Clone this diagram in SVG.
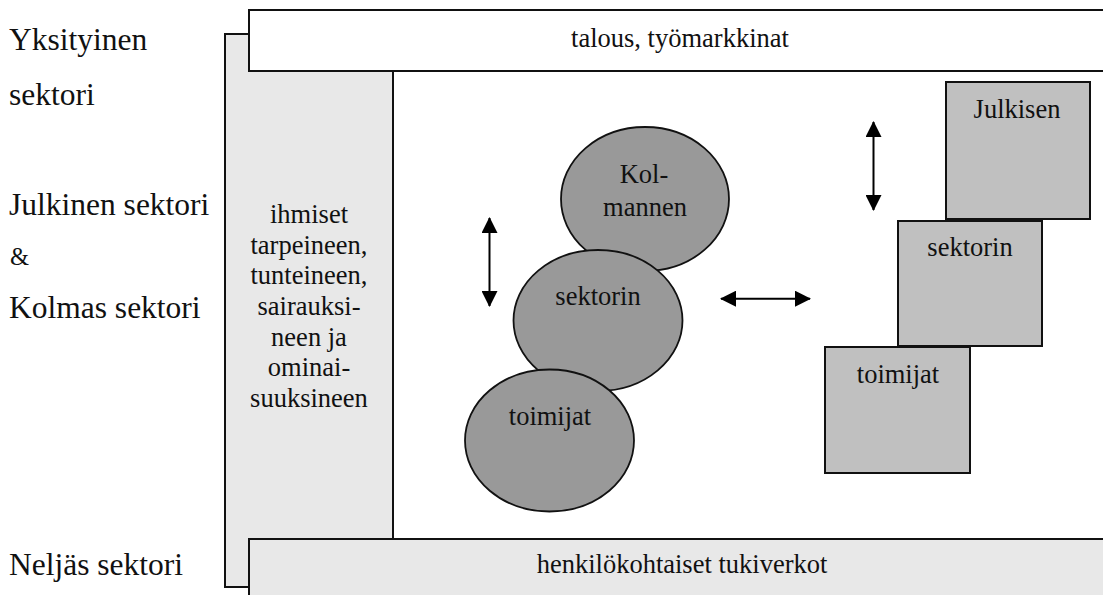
<svg xmlns="http://www.w3.org/2000/svg" width="1103" height="595" viewBox="0 0 1103 595" font-family="'Liberation Serif', 'DejaVu Serif', serif">
<style>
  text { font-family: 'Liberation Serif', 'DejaVu Serif', serif; fill: #111; }
  .lbl { font-size: 31.5px; }
  .t { font-size: 26.5px; text-anchor: middle; }
  .box { stroke: #111; stroke-width: 2; }
  .ell { fill: #999999; stroke: #111; stroke-width: 1.8; }
  .sq { fill: #c0c0c0; stroke: #111; stroke-width: 2; }
  .arr { stroke: #000; stroke-width: 2; fill: none; marker-start: url(#ah); marker-end: url(#ah); }
</style>
<defs>
  <marker id="ah" viewBox="0 0 16 16" refX="15" refY="8" markerWidth="16" markerHeight="16" markerUnits="userSpaceOnUse" orient="auto-start-reverse">
    <path d="M0,0 L16,8 L0,16 Z" fill="#000"/>
  </marker>
</defs>
<rect width="1103" height="595" fill="#fff"/>

<g id="labels">
  <text class="lbl" x="9" y="50">Yksityinen</text>
  <text class="lbl" x="9" y="105">sektori</text>
  <text class="lbl" x="9" y="215">Julkinen sektori</text>
  <text x="10" y="265" style="font-size:24.5px">&amp;</text>
  <text class="lbl" x="9" y="318">Kolmas sektori</text>
  <text class="lbl" x="9" y="575">Neljäs sektori</text>
</g>

<g id="ihmiset">
  <rect class="box" x="225" y="34" width="168" height="553" fill="#e8e8e8"/>
  <text class="t" x="309" y="223">ihmiset</text>
  <text class="t" x="309" y="253.5">tarpeineen,</text>
  <text class="t" x="309" y="284">tunteineen,</text>
  <text class="t" x="309" y="315">sairauksi-</text>
  <text class="t" x="309" y="345.5">neen ja</text>
  <text class="t" x="309" y="376">ominai-</text>
  <text class="t" x="309" y="406.5">suuksineen</text>
</g>

<g id="talous">
  <rect class="box" x="249" y="10" width="880" height="61" fill="#fff"/>
  <text class="t" x="680" y="47">talous, työmarkkinat</text>
</g>

<g id="tukiverkot">
  <rect class="box" x="249" y="539" width="880" height="80" fill="#e8e8e8"/>
  <text class="t" x="682" y="573">henkilökohtaiset tukiverkot</text>
</g>

<g id="kolmas">
  <g id="kolmas-1">
    <ellipse class="ell" cx="645" cy="199" rx="84" ry="72"/>
    <text class="t" x="644" y="183">Kol-</text>
    <text class="t" x="645" y="216">mannen</text>
  </g>
  <g id="kolmas-2">
    <ellipse class="ell" cx="598" cy="320.5" rx="84.5" ry="70.5"/>
    <text class="t" x="598" y="305">sektorin</text>
  </g>
  <g id="kolmas-3">
    <ellipse class="ell" cx="549.5" cy="440.5" rx="84.5" ry="71"/>
    <text class="t" x="550" y="425">toimijat</text>
  </g>
</g>

<g id="julkinen">
  <g id="julkinen-1">
    <rect class="sq" x="946" y="82" width="144" height="137"/>
    <text class="t" x="1017" y="118">Julkisen</text>
  </g>
  <g id="julkinen-2">
    <rect class="sq" x="898" y="221" width="144" height="125"/>
    <text class="t" x="970" y="256">sektorin</text>
  </g>
  <g id="julkinen-3">
    <rect class="sq" x="825" y="347" width="145" height="126"/>
    <text class="t" x="898" y="383">toimijat</text>
  </g>
</g>

<g id="connectors">
  <line class="arr" x1="489.5" y1="218" x2="489.5" y2="306"/>
  <line class="arr" x1="873.5" y1="122" x2="873.5" y2="210"/>
  <line class="arr" x1="721" y1="298.7" x2="810" y2="298.7"/>
</g>
</svg>
